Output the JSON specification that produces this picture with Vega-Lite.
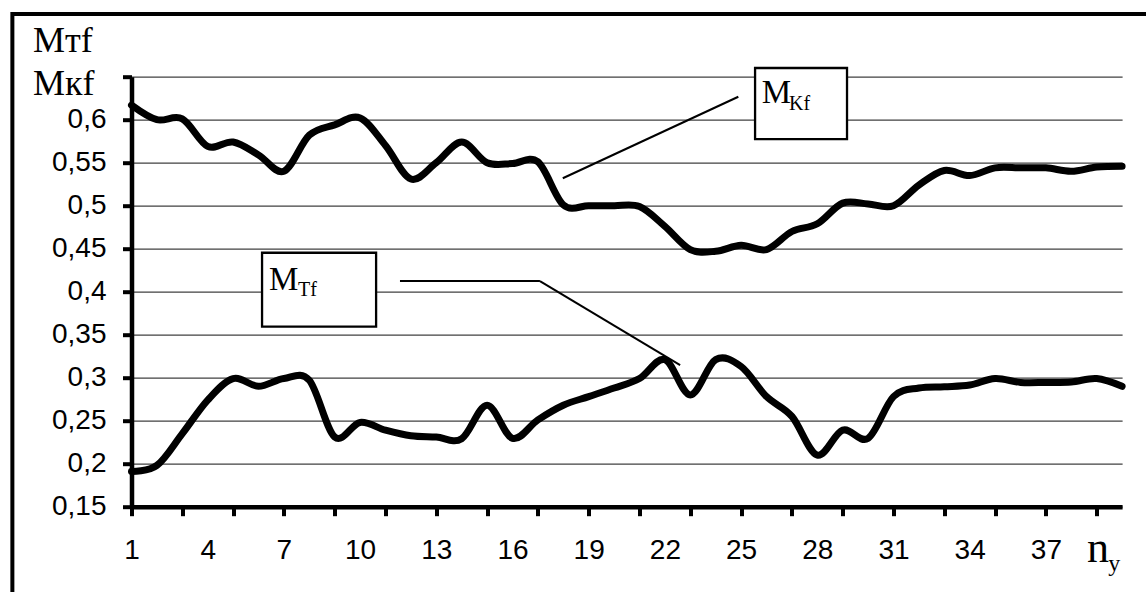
{
  "$schema": "https://vega.github.io/schema/vega-lite/v6.json",
  "width": 990.6,
  "height": 430,
  "autosize": {"type": "none"},
  "padding": {"left": 131.5, "top": 76.7, "right": 23.9, "bottom": 85.3},
  "background": "white",
  "config": {"view": {"stroke": null}},
  "datasets": {
    "curves": [
      {"x": 1, "s": "Mkf", "y": 0.617}, {"x": 2, "s": "Mkf", "y": 0.600}, {"x": 3, "s": "Mkf", "y": 0.601}, {"x": 4, "s": "Mkf", "y": 0.569},
      {"x": 5, "s": "Mkf", "y": 0.574}, {"x": 6, "s": "Mkf", "y": 0.559}, {"x": 7, "s": "Mkf", "y": 0.540}, {"x": 8, "s": "Mkf", "y": 0.582},
      {"x": 9, "s": "Mkf", "y": 0.594}, {"x": 10, "s": "Mkf", "y": 0.602}, {"x": 11, "s": "Mkf", "y": 0.570}, {"x": 12, "s": "Mkf", "y": 0.531},
      {"x": 13, "s": "Mkf", "y": 0.550}, {"x": 14, "s": "Mkf", "y": 0.574}, {"x": 15, "s": "Mkf", "y": 0.550}, {"x": 16, "s": "Mkf", "y": 0.549},
      {"x": 17, "s": "Mkf", "y": 0.551}, {"x": 18, "s": "Mkf", "y": 0.501}, {"x": 19, "s": "Mkf", "y": 0.500}, {"x": 20, "s": "Mkf", "y": 0.500},
      {"x": 21, "s": "Mkf", "y": 0.499}, {"x": 22, "s": "Mkf", "y": 0.476}, {"x": 23, "s": "Mkf", "y": 0.449}, {"x": 24, "s": "Mkf", "y": 0.447},
      {"x": 25, "s": "Mkf", "y": 0.454}, {"x": 26, "s": "Mkf", "y": 0.449}, {"x": 27, "s": "Mkf", "y": 0.470}, {"x": 28, "s": "Mkf", "y": 0.479},
      {"x": 29, "s": "Mkf", "y": 0.503}, {"x": 30, "s": "Mkf", "y": 0.502}, {"x": 31, "s": "Mkf", "y": 0.500}, {"x": 32, "s": "Mkf", "y": 0.524},
      {"x": 33, "s": "Mkf", "y": 0.541}, {"x": 34, "s": "Mkf", "y": 0.535}, {"x": 35, "s": "Mkf", "y": 0.544}, {"x": 36, "s": "Mkf", "y": 0.544},
      {"x": 37, "s": "Mkf", "y": 0.544}, {"x": 38, "s": "Mkf", "y": 0.540}, {"x": 39, "s": "Mkf", "y": 0.545}, {"x": 40, "s": "Mkf", "y": 0.546},
      {"x": 1, "s": "Mtf", "y": 0.191}, {"x": 2, "s": "Mtf", "y": 0.198}, {"x": 3, "s": "Mtf", "y": 0.235}, {"x": 4, "s": "Mtf", "y": 0.274},
      {"x": 5, "s": "Mtf", "y": 0.299}, {"x": 6, "s": "Mtf", "y": 0.290}, {"x": 7, "s": "Mtf", "y": 0.299}, {"x": 8, "s": "Mtf", "y": 0.297},
      {"x": 9, "s": "Mtf", "y": 0.231}, {"x": 10, "s": "Mtf", "y": 0.248}, {"x": 11, "s": "Mtf", "y": 0.239}, {"x": 12, "s": "Mtf", "y": 0.2325},
      {"x": 13, "s": "Mtf", "y": 0.231}, {"x": 14, "s": "Mtf", "y": 0.229}, {"x": 15, "s": "Mtf", "y": 0.268}, {"x": 16, "s": "Mtf", "y": 0.2295},
      {"x": 17, "s": "Mtf", "y": 0.251}, {"x": 18, "s": "Mtf", "y": 0.268}, {"x": 19, "s": "Mtf", "y": 0.278}, {"x": 20, "s": "Mtf", "y": 0.288},
      {"x": 21, "s": "Mtf", "y": 0.299}, {"x": 22, "s": "Mtf", "y": 0.321}, {"x": 23, "s": "Mtf", "y": 0.280}, {"x": 24, "s": "Mtf", "y": 0.321},
      {"x": 25, "s": "Mtf", "y": 0.313}, {"x": 26, "s": "Mtf", "y": 0.278}, {"x": 27, "s": "Mtf", "y": 0.255}, {"x": 28, "s": "Mtf", "y": 0.210},
      {"x": 29, "s": "Mtf", "y": 0.239}, {"x": 30, "s": "Mtf", "y": 0.2295}, {"x": 31, "s": "Mtf", "y": 0.278}, {"x": 32, "s": "Mtf", "y": 0.288},
      {"x": 33, "s": "Mtf", "y": 0.2895}, {"x": 34, "s": "Mtf", "y": 0.2915}, {"x": 35, "s": "Mtf", "y": 0.299}, {"x": 36, "s": "Mtf", "y": 0.2945},
      {"x": 37, "s": "Mtf", "y": 0.2945}, {"x": 38, "s": "Mtf", "y": 0.295}, {"x": 39, "s": "Mtf", "y": 0.299}, {"x": 40, "s": "Mtf", "y": 0.290}
    ],
    "frame": [{"x": -3.69, "x2": 45, "y": 0.7229, "y2": 0.0}],
    "boxes": [
      {"x": 25.55, "x2": 29.17, "y": 0.6601, "y2": 0.5775},
      {"x": 6.14, "x2": 10.63, "y": 0.4453, "y2": 0.3593}
    ],
    "leaders": [
      {"x": 24.89, "y": 0.6267, "x2": 17.98, "y2": 0.5319},
      {"x": 11.57, "y": 0.4124, "x2": 17.08, "y2": 0.4124},
      {"x": 17.08, "y": 0.4124, "x2": 22.6, "y2": 0.3147}
    ],
    "bigText": [
      {"x": 25.81, "y": 0.6194, "t": "M"},
      {"x": 6.41, "y": 0.402, "t": "M"}
    ],
    "subText": [
      {"x": 26.89, "y": 0.6113, "t": "Kf"},
      {"x": 7.555, "y": 0.395, "t": "Tf"}
    ],
    "axisN": [{"x": 38.62, "y": 0.0857, "t": "n"}],
    "axisY": [{"x": 39.45, "y": 0.0747, "t": "y"}]
  },
  "encoding": {
    "x": {
      "field": "x", "type": "quantitative",
      "scale": {"domain": [1, 40], "nice": false, "zero": false},
      "axis": {
        "values": [1, 3, 4, 5, 7, 9, 10, 11, 13, 15, 16, 17, 19, 21, 22, 23, 25, 27, 28, 29, 31, 33, 34, 35, 37, 39],
        "labelExpr": "(datum.value - 1) % 3 == 0 ? datum.label : ''",
        "tickOpacity": {"condition": {"test": "datum.value % 2 == 1", "value": 1}, "value": 0},
        "title": null,
        "grid": false,
        "domainColor": "black", "domainWidth": 4.5,
        "tickColor": "black", "tickWidth": 4, "tickSize": 9,
        "labelFont": "Liberation Sans", "labelFontSize": 28, "labelColor": "black",
        "labelPadding": 21, "labelFlush": false, "labelOverlap": false
      }
    },
    "y": {
      "field": "y", "type": "quantitative",
      "scale": {"domain": [0.15, 0.65], "nice": false, "zero": false},
      "axis": {
        "values": [0.15, 0.2, 0.25, 0.3, 0.35, 0.4, 0.45, 0.5, 0.55, 0.6, 0.65],
        "labelExpr": "datum.value > 0.64 ? '' : replace(format(datum.value, '.2~f'), '.', ',')",
        "grid": true, "gridColor": "#404040", "gridWidth": 1.3,
        "domainColor": "black", "domainWidth": 4.5,
        "tickColor": "black", "tickWidth": 4, "tickSize": 9,
        "labelFont": "Liberation Sans", "labelFontSize": 28, "labelColor": "black",
        "labelPadding": 16.5, "labelFlush": false, "labelOverlap": false,
        "title": ["Mтf", "Mкf"],
        "titleAngle": 0, "titleFont": "Liberation Serif", "titleFontSize": 36, "titleFontWeight": "normal",
        "titleColor": "black", "titleAlign": "left", "titleBaseline": "alphabetic",
        "titleX": -99, "titleY": -25, "titleLineHeight": 43
      }
    }
  },
  "layer": [
    {
      "data": {"name": "frame"},
      "mark": {"type": "rect", "fill": "transparent", "stroke": "black", "strokeWidth": 4},
      "encoding": {"x2": {"field": "x2"}, "y2": {"field": "y2"}}
    },
    {
      "data": {"name": "curves"},
      "mark": {"type": "line", "interpolate": "cardinal", "strokeWidth": 7, "color": "black", "strokeCap": "round", "strokeJoin": "round"},
      "encoding": {"detail": {"field": "s"}}
    },
    {
      "data": {"name": "leaders"},
      "mark": {"type": "rule", "color": "black", "strokeWidth": 2},
      "encoding": {"x2": {"field": "x2"}, "y2": {"field": "y2"}}
    },
    {
      "data": {"name": "boxes"},
      "mark": {"type": "rect", "fill": "white", "stroke": "black", "strokeWidth": 2.3},
      "encoding": {"x2": {"field": "x2"}, "y2": {"field": "y2"}}
    },
    {
      "data": {"name": "bigText"},
      "mark": {"type": "text", "font": "Liberation Serif", "fontSize": 33, "align": "left", "baseline": "alphabetic", "color": "black"},
      "encoding": {"text": {"field": "t"}}
    },
    {
      "data": {"name": "subText"},
      "mark": {"type": "text", "font": "Liberation Serif", "fontSize": 20, "align": "left", "baseline": "alphabetic", "color": "black"},
      "encoding": {"text": {"field": "t"}}
    },
    {
      "data": {"name": "axisN"},
      "mark": {"type": "text", "font": "Liberation Serif", "fontSize": 44, "align": "left", "baseline": "alphabetic", "color": "black"},
      "encoding": {"text": {"field": "t"}}
    },
    {
      "data": {"name": "axisY"},
      "mark": {"type": "text", "font": "Liberation Serif", "fontSize": 24, "align": "left", "baseline": "alphabetic", "color": "black"},
      "encoding": {"text": {"field": "t"}}
    }
  ]
}
